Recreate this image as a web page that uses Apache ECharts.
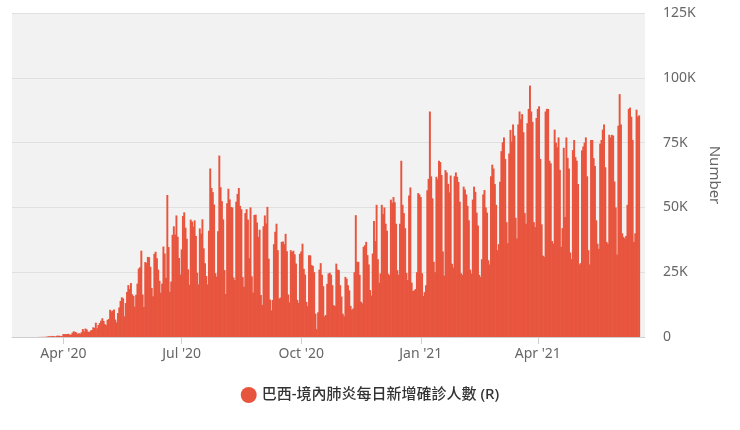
<!DOCTYPE html>
<html>
<head>
<meta charset="utf-8">
<script src="https://cdn.jsdelivr.net/npm/echarts@6/dist/echarts.min.js"></script>
<style>
html,body{margin:0;padding:0;background:#fff;}
#chart{width:740px;height:430px;}
</style>
</head>
<body>
<div id="chart"></div>
<script>
// Daily new confirmed cases (thousands), by chart date
const seriesName = '巴西-境內肺炎每日新增確診人數 (R)';
const axisStart = '2020-02-22';
const axisEnd = '2021-06-22';
const dataStart = '2020-02-27';
const feb2020 = [0.001, 0, 0];
const mar2020 = [0.001, 0, 0, 0, 0, 0.005, 0.005, 0.006, 0.006, 0.005, 0.009, 0.018, 0.025, 0.021, 0.023, 0.079, 0.034, 0.057, 0.137, 0.193, 0.283, 0.224, 0.418, 0.345, 0.31, 0.232, 0.482, 0.502, 0.487, 0.352, 0.323];
const apr2020 = [1.14, 1.12, 1.07, 1.15, 1.22, 0.85, 0.93, 1.66, 2.21, 1.93, 1.78, 1.09, 1.44, 1.26, 1.83, 3.06, 2.11, 3.26, 2.92, 2.06, 1.93, 2.50, 2.68, 3.74, 3.50, 5.51, 3.38, 4.61, 5.39, 6.28];
const may2020 = [7.22, 6.21, 4.97, 4.59, 6.63, 6.94, 10.5, 9.89, 10.2, 10.6, 6.76, 5.63, 9.26, 11.4, 13.9, 15.3, 14.9, 7.94, 13.1, 17.4, 20.0, 18.5, 20.8, 16.5, 15.8, 11.7, 16.3, 20.6, 26.4, 26.9, 33.3];
const jun2020 = [16.4, 11.6, 28.9, 28.6, 30.9, 30.8, 27.1, 18.9, 15.7, 32.1, 32.9, 30.4, 26.0, 21.7, 17.1, 20.6, 34.9, 32.2, 22.8, 54.8, 34.7, 17.5, 21.4, 39.4, 42.7, 39.5, 46.9, 38.7, 30.5, 24.1];
const jul2020 = [33.8, 46.7, 48.1, 42.2, 37.9, 26.1, 20.2, 45.3, 44.6, 42.6, 45.0, 39.0, 24.8, 20.3, 41.9, 39.9, 45.4, 34.2, 28.5, 23.5, 20.3, 41.0, 65.0, 57.5, 55.9, 51.1, 24.6, 23.3, 40.8, 70.0, 57.8];
const aug2020 = [52.4, 45.4, 25.8, 16.6, 51.6, 57.2, 53.1, 50.2, 50.0, 23.0, 22.0, 52.2, 55.2, 57.5, 50.6, 49.3, 23.1, 19.4, 47.8, 49.3, 45.3, 30.4, 50.0, 23.4, 17.1, 47.1, 47.2, 44.2, 38.6, 41.4, 16.2];
const sep2020 = [12.4, 42.7, 46.9, 43.8, 50.2, 30.2, 14.5, 10.3, 14.3, 35.8, 40.6, 43.7, 33.5, 14.8, 15.2, 36.7, 36.8, 35.8, 39.8, 33.1, 16.4, 13.4, 33.5, 32.8, 33.3, 31.9, 28.4, 14.3, 13.2, 32.1];
const oct2020 = [33.0, 36.0, 26.3, 24.1, 13.5, 11.9, 31.5, 31.5, 27.8, 27.4, 25.0, 9.0, 3.0, 9.5, 26.0, 28.5, 24.0, 19.6, 8.0, 8.5, 20.5, 24.5, 24.8, 24.0, 20.0, 12.3, 12.0, 28.3, 26.0, 25.8, 20.0];
const nov2020 = [15.6, 9.0, 8.0, 23.2, 22.5, 20.0, 18.0, 12.0, 10.5, 11.0, 25.0, 47.0, 29.0, 29.0, 24.0, 13.6, 13.0, 34.8, 35.4, 36.7, 31.6, 28.0, 18.1, 16.0, 32.2, 44.8, 37.0, 51.0, 30.0, 21.0];
const dec2020 = [24.5, 51.0, 47.5, 50.0, 43.7, 41.0, 24.4, 23.8, 53.0, 51.8, 54.0, 52.0, 43.7, 25.8, 24.0, 43.7, 68.0, 51.0, 47.8, 42.0, 24.7, 22.0, 54.6, 57.7, 21.0, 17.7, 18.0, 18.5, 25.0, 55.5, 55.0];
const jan2021 = [54.0, 24.6, 15.8, 17.3, 20.0, 56.6, 61.0, 87.0, 62.0, 53.5, 29.0, 25.0, 61.8, 60.9, 68.0, 67.5, 62.5, 33.0, 23.7, 64.4, 63.5, 59.1, 55.8, 62.3, 28.3, 26.8, 62.0, 63.5, 61.8, 59.8, 52.2];
const feb2021 = [24.6, 24.0, 58.0, 56.9, 55.0, 50.6, 45.0, 26.0, 24.5, 53.0, 58.0, 56.0, 48.0, 43.0, 24.0, 23.2, 30.0, 55.0, 56.7, 50.0, 48.0, 29.6, 28.0, 62.0, 66.5, 65.0, 59.0, 51.0];
const mar2021 = [33.5, 35.8, 59.9, 71.7, 75.1, 77.0, 68.7, 44.3, 36.2, 70.8, 79.9, 75.4, 82.0, 77.7, 46.0, 38.0, 82.0, 87.0, 84.0, 86.0, 79.0, 47.8, 43.7, 82.5, 88.0, 97.0, 87.0, 83.0, 44.3, 42.4, 84.5];
const apr2021 = [88.0, 89.0, 68.7, 43.5, 31.4, 31.0, 87.0, 88.0, 88.0, 68.0, 67.0, 37.0, 36.0, 80.0, 75.0, 73.2, 77.0, 64.5, 34.8, 42.0, 73.0, 46.3, 77.0, 69.1, 65.0, 32.6, 30.1, 72.1, 76.0, 69.4];
const may2021 = [68.0, 59.0, 28.0, 28.5, 72.0, 73.5, 75.0, 77.0, 62.0, 33.5, 28.0, 76.0, 76.0, 69.0, 66.0, 45.0, 36.0, 34.0, 74.6, 76.0, 80.0, 82.0, 65.5, 36.7, 36.0, 78.0, 77.0, 78.0, 77.7, 60.0, 50.0];
const jun2021 = [31.8, 81.5, 93.7, 82.0, 40.0, 38.6, 38.0, 39.0, 51.0, 88.0, 88.5, 85.0, 76.0, 36.7, 40.0, 87.7, 85.0, 85.5];
const yTicks = { min: 0, max: 125, interval: 25 };
const labelMonths = [0, 3, 6, 9];
const monthNames = ['Jan','Feb','Mar','Apr','May','Jun','Jul','Aug','Sep','Oct','Nov','Dec'];

const values = [].concat(feb2020, mar2020, apr2020, may2020, jun2020, jul2020, aug2020, sep2020,
  oct2020, nov2020, dec2020, jan2021, feb2021, mar2021, apr2021, may2021, jun2021);

function ymd(t) { return new Date(t).toISOString().slice(0, 10); }
const DAY = 86400000;
const t0 = Date.parse(axisStart + 'T00:00:00Z');
const t1 = Date.parse(axisEnd + 'T00:00:00Z');
const td = Date.parse(dataStart + 'T00:00:00Z');
const dates = [];
const seriesData = [];
for (let t = t0; t <= t1; t += DAY) {
  dates.push(ymd(t));
  const i = Math.round((t - td) / DAY);
  seriesData.push(i >= 0 && i < values.length ? values[i] : '-');
}
function isQuarterStart(idx, val) {
  const d = new Date(val + 'T00:00:00Z');
  return d.getUTCDate() === 1 && labelMonths.indexOf(d.getUTCMonth()) >= 0;
}

const chart = echarts.init(document.getElementById('chart'), null, { renderer: 'canvas' });
const font = "'Noto Sans', 'Noto Sans CJK TC', sans-serif";
chart.setOption({
  animation: false,
  backgroundColor: '#ffffff',
  textStyle: { fontFamily: font },
  grid: { left: 12, right: 95, top: 13, bottom: 93, show: true, backgroundColor: '#f2f2f2', borderWidth: 0 },
  legend: {
    data: [seriesName], bottom: 22, left: 'center', icon: 'circle', itemWidth: 16, itemHeight: 16, itemGap: 10,
    textStyle: { fontSize: 15, color: '#333', fontWeight: 500, fontFamily: font }
  },
  xAxis: {
    type: 'category', data: dates, boundaryGap: true,
    axisLine: { lineStyle: { color: '#cfcfcf' } },
    axisTick: { show: true, interval: isQuarterStart, alignWithLabel: true, length: 7, lineStyle: { color: '#cfcfcf' } },
    axisLabel: {
      interval: isQuarterStart, color: '#666', fontSize: 14, margin: 10, fontFamily: font,
      formatter: v => { const d = new Date(v + 'T00:00:00Z'); return monthNames[d.getUTCMonth()] + " '" + String(d.getUTCFullYear()).slice(2); }
    },
    splitLine: { show: false }
  },
  yAxis: {
    type: 'value', position: 'right', min: yTicks.min, max: yTicks.max, interval: yTicks.interval,
    name: 'Number', nameLocation: 'middle', nameRotate: -90, nameGap: 60,
    nameTextStyle: { color: '#666', fontSize: 15, fontFamily: font },
    axisLine: { show: false }, axisTick: { show: false },
    axisLabel: { color: '#666', fontSize: 14, margin: 18, fontFamily: font, formatter: v => v === 0 ? '0' : v + 'K' },
    splitLine: { lineStyle: { color: '#e0e0e0', width: 1 } }
  },
  series: [{
    name: seriesName, type: 'bar', data: seriesData, barWidth: '150%',
    itemStyle: { color: '#e8553e' }
  }]
});
</script>
</body>
</html>
